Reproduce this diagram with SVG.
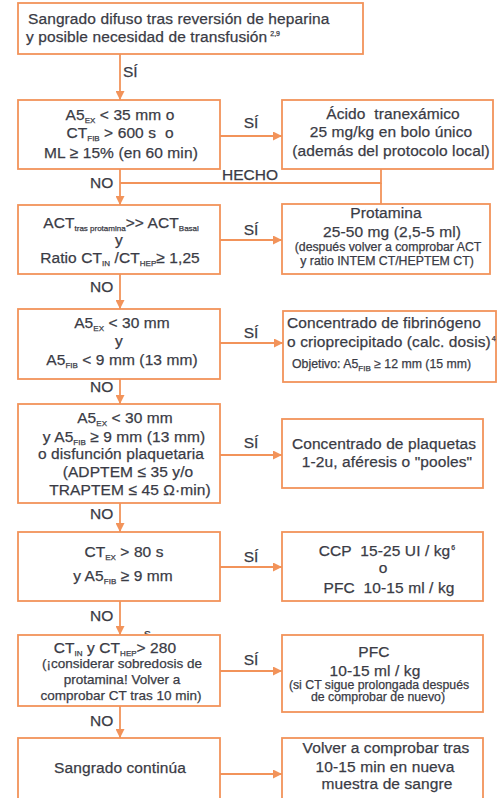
<svg xmlns="http://www.w3.org/2000/svg" width="498" height="798" viewBox="0 0 498 798">
  <defs>
    <marker id="ah" viewBox="0 0 10 10" refX="10" refY="5" markerWidth="5" markerHeight="5" orient="auto" markerUnits="strokeWidth">
      <path d="M0,0 L10,5 L0,10 z" fill="#F2935A"/>
    </marker>
    <style>
      .box { fill: #ffffff; stroke: #F2935A; stroke-width: 1.8; }
      .ln { fill: none; stroke: #F2935A; stroke-width: 1.8; }
      .arr { fill: none; stroke: #F2935A; stroke-width: 1.8; marker-end: url(#ah); }
      text { font-family: "Liberation Sans", Arial, sans-serif; fill: #3a3b45; stroke: #3a3b45; stroke-width: 0.25; white-space: pre; }
      .t { font-size: 15.5px; letter-spacing: 0.1px; }
      .m { font-size: 13.5px; }
      .s { font-size: 12.3px; }
      .c { text-anchor: middle; }
      .sub { font-size: 8px; letter-spacing: 0; }
      .sup { font-size: 7px; letter-spacing: 0; }
      .lbl { font-size: 15.5px; }
    </style>
  </defs>

  <rect width="498" height="798" fill="#ffffff"/>

  <!-- connectors -->
  <g id="connectors">
    <line class="arr" x1="120" y1="54" x2="120" y2="100"/>
    <line class="arr" x1="120" y1="169" x2="120" y2="205"/>
    <line class="arr" x1="120" y1="274" x2="120" y2="309"/>
    <line class="arr" x1="120" y1="379" x2="120" y2="404"/>
    <line class="arr" x1="120" y1="503" x2="120" y2="532"/>
    <line class="arr" x1="120" y1="601" x2="120" y2="635"/>
    <line class="arr" x1="120" y1="706" x2="120" y2="738"/>

    <line class="arr" x1="220" y1="136" x2="282" y2="136"/>
    <line class="arr" x1="220" y1="240" x2="282" y2="240"/>
    <line class="arr" x1="220" y1="343" x2="283" y2="343"/>
    <line class="arr" x1="220" y1="455" x2="282" y2="455"/>
    <line class="arr" x1="220" y1="567" x2="282" y2="567"/>
    <line class="arr" x1="220" y1="671" x2="282" y2="671"/>
    <line class="arr" x1="220" y1="774" x2="282" y2="774"/>

    <!-- HECHO return path from tranexamic acid -->
    <polyline class="ln" points="381,169 381,183 120,183"/>
    <line class="ln" x1="381" y1="183" x2="381" y2="204"/>

    <text class="lbl" x="123" y="77">SÍ</text>
    <text class="lbl c" x="251" y="128">SÍ</text>
    <text class="lbl c" x="250" y="180">HECHO</text>
    <text class="lbl" x="90" y="188">NO</text>
    <text class="lbl c" x="251" y="235">SÍ</text>
    <text class="lbl" x="90" y="292">NO</text>
    <text class="lbl c" x="251" y="338">SÍ</text>
    <text class="lbl" x="90" y="392">NO</text>
    <text class="lbl c" x="251" y="448">SÍ</text>
    <text class="lbl" x="90" y="519">NO</text>
    <text class="lbl c" x="251" y="562">SÍ</text>
    <text class="lbl" x="90" y="621">NO</text>
    <text class="lbl c" x="251" y="665">SÍ</text>
    <text class="lbl" x="90" y="726">NO</text>
  </g>

  <!-- start -->
  <g id="n-start">
    <rect class="box" x="18" y="3" width="345" height="51"/>
    <text class="t" x="28" y="24">Sangrado difuso tras reversión de heparina</text>
    <text class="t" x="26" y="42">y posible necesidad de transfusión<tspan class="sup" dx="3" dy="-6">2,9</tspan></text>
  </g>

  <!-- fibrinolysis check -->
  <g id="n-fibrinolisis">
    <rect class="box" x="18" y="100" width="202" height="69"/>
    <text class="t c" x="120" y="120">A5<tspan class="sub" dy="3">EX</tspan><tspan dy="-3"> &lt; 35 mm o</tspan></text>
    <text class="t c" x="120" y="138">CT<tspan class="sub" dy="3">FIB</tspan><tspan dy="-3"> &gt; 600 s  o</tspan></text>
    <text class="t c" x="121" y="158">ML ≥ 15% (en 60 min)</text>
  </g>

  <g id="n-tranexamico">
    <rect class="box" x="282" y="100" width="211" height="69"/>
    <text class="t c" x="393" y="119">Ácido  tranexámico</text>
    <text class="t c" x="391" y="137">25 mg/kg en bolo único</text>
    <text class="t c" x="391" y="156">(además del protocolo local)</text>
  </g>

  <!-- heparin check -->
  <g id="n-heparina">
    <rect class="box" x="18" y="205" width="202" height="69"/>
    <text class="t c" x="121" y="228">ACT<tspan class="sub" dy="3">tras protamina</tspan><tspan dy="-3">&gt;&gt; ACT</tspan><tspan class="sub" dy="3">Basal</tspan></text>
    <text class="t c" x="119" y="245">y</text>
    <text class="t c" x="120" y="263">Ratio CT<tspan class="sub" dy="3">IN</tspan><tspan dy="-3"> /CT</tspan><tspan class="sub" dy="3">HEP</tspan><tspan dy="-3">≥ 1,25</tspan></text>
  </g>

  <g id="n-protamina">
    <rect class="box" x="282" y="204" width="208" height="70"/>
    <text class="t c" x="386" y="218">Protamina</text>
    <text class="t c" x="392" y="237">25-50 mg (2,5-5 ml)</text>
    <text class="s c" x="388" y="251">(después volver a comprobar ACT</text>
    <text class="s c" x="387" y="265">y ratio INTEM CT/HEPTEM CT)</text>
  </g>

  <!-- fibrinogen check -->
  <g id="n-fibrinogeno">
    <rect class="box" x="18" y="309" width="202" height="70"/>
    <text class="t c" x="122" y="328">A5<tspan class="sub" dy="3">EX</tspan><tspan dy="-3"> &lt; 30 mm</tspan></text>
    <text class="t c" x="119" y="346">y</text>
    <text class="t c" x="122" y="365">A5<tspan class="sub" dy="3">FIB</tspan><tspan dy="-3"> &lt; 9 mm (13 mm)</tspan></text>
  </g>

  <g id="n-concentrado-fib">
    <rect class="box" x="283" y="311" width="213" height="71"/>
    <text class="t" x="287" y="328">Concentrado de fibrinógeno</text>
    <text class="t" x="287" y="347">o crioprecipitado (calc. dosis)<tspan class="sup" dx="1" dy="-6">4</tspan></text>
    <text class="s" x="292" y="368">Objetivo: A5<tspan class="sub" dy="3">FIB</tspan><tspan dy="-3"> ≥ 12 mm (15 mm)</tspan></text>
  </g>

  <!-- platelet check -->
  <g id="n-plaquetas">
    <rect class="box" x="18" y="404" width="202" height="99"/>
    <text class="t c" x="125" y="423">A5<tspan class="sub" dy="3">EX</tspan><tspan dy="-3"> &lt; 30 mm</tspan></text>
    <text class="t c" x="124" y="442">y A5<tspan class="sub" dy="3">FIB</tspan><tspan dy="-3"> ≥ 9 mm (13 mm)</tspan></text>
    <text class="t c" x="121" y="459">o disfunción plaquetaria</text>
    <text class="t c" x="128" y="477">(ADPTEM ≤ 35 y/o</text>
    <text class="t c" x="130" y="495">TRAPTEM ≤ 45 Ω·min)</text>
  </g>

  <g id="n-concentrado-plaq">
    <rect class="box" x="282" y="419" width="201" height="69"/>
    <text class="t c" x="384" y="449">Concentrado de plaquetas</text>
    <text class="t c" x="387" y="467">1-2u, aféresis o "pooles"</text>
  </g>

  <!-- coagulation factor check -->
  <g id="n-factores">
    <rect class="box" x="18" y="532" width="202" height="69"/>
    <text class="t c" x="124" y="557">CT<tspan class="sub" dy="3">EX</tspan><tspan dy="-3"> &gt; 80 s</tspan></text>
    <text class="t c" x="123" y="581">y A5<tspan class="sub" dy="3">FIB</tspan><tspan dy="-3"> ≥ 9 mm</tspan></text>
  </g>

  <g id="n-ccp">
    <rect class="box" x="282" y="532" width="201" height="69"/>
    <text class="t c" x="387" y="556">CCP  15-25 UI / kg<tspan class="sup" dx="1" dy="-6">6</tspan></text>
    <text class="t c" x="383" y="573">o</text>
    <text class="t c" x="389" y="593">PFC  10-15 ml / kg</text>
  </g>

  <!-- prolonged CT check -->
  <g id="n-ct-prolongado">
    <text class="m" x="144" y="638">s</text>
    <rect class="box" x="18" y="635" width="202" height="71"/>
    <text class="t c" x="115" y="653">CT<tspan class="sub" dy="3">IN</tspan><tspan dy="-3"> y CT</tspan><tspan class="sub" dy="3">HEP</tspan><tspan dy="-3">&gt; 280</tspan></text>
    <text class="m c" x="122" y="668">(¡considerar sobredosis de</text>
    <text class="m c" x="122" y="684">protamina! Volver a</text>
    <text class="m c" x="121" y="700">comprobar CT tras 10 min)</text>
  </g>

  <g id="n-pfc">
    <rect class="box" x="282" y="635" width="201" height="77"/>
    <text class="t c" x="374" y="657">PFC</text>
    <text class="t c" x="375" y="676">10-15 ml / kg</text>
    <text class="s c" x="379" y="689">(si CT sigue prolongada después</text>
    <text class="s c" x="378" y="701">de comprobar de nuevo)</text>
  </g>

  <!-- ongoing bleeding -->
  <g id="n-sangrado-continua">
    <rect class="box" x="18" y="738" width="202" height="64"/>
    <text class="t c" x="120" y="773">Sangrado continúa</text>
  </g>

  <g id="n-volver">
    <rect class="box" x="282" y="738" width="201" height="64"/>
    <text class="t c" x="386" y="753">Volver a comprobar tras</text>
    <text class="t c" x="385" y="772">10-15 min en nueva</text>
    <text class="t c" x="387" y="789">muestra de sangre</text>
  </g>
</svg>
